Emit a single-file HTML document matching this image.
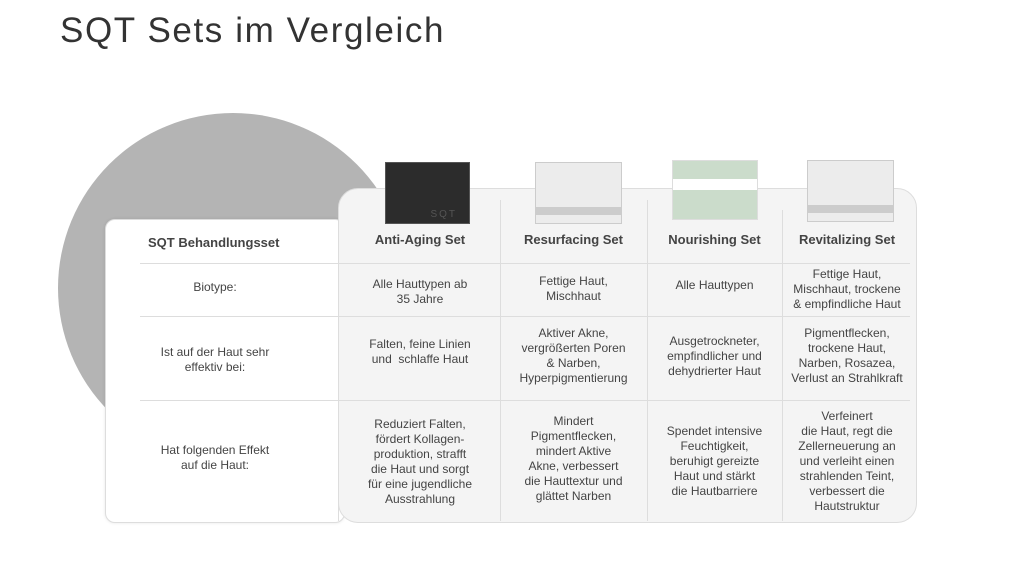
<!DOCTYPE html>
<html><head><meta charset="utf-8"><style>
body{margin:0;width:1024px;height:583px;background:#fff;font-family:"Liberation Sans",sans-serif;color:#444;position:relative;overflow:hidden}
.a{position:absolute}
h1{position:absolute;left:60px;top:11px;margin:0;font-weight:normal;font-size:35px;color:#333;letter-spacing:1.6px}
.circ{left:58px;top:113px;width:350px;height:350px;border-radius:50%;background:#b4b4b4}
.left{left:105px;top:219px;width:238px;height:302px;background:#fff;border:1px solid #ddd;border-radius:10px;box-shadow:0 0 3px rgba(0,0,0,.1)}
.right{left:338px;top:188px;width:577px;height:333px;background:#f4f4f4;border:1px solid #ddd;border-radius:20px}
.c{position:absolute;text-align:center;font-size:12px;line-height:15px;color:#444}
.h{font-weight:bold;font-size:13px;color:#444}
.vl{position:absolute;width:1px;background:#ddd}
.hl{position:absolute;height:1px;background:#ddd}
.img{position:absolute;border:1px solid #ccc}
</style></head><body>
<h1>SQT Sets im Vergleich</h1>
<div class="a circ"></div>
<div class="a left"></div>
<div class="a right" style="border-top-left-radius:20px"></div>
<div class="vl" style="left:338px;top:219px;height:302px"></div>
<div class="vl" style="left:500px;top:200px;height:321px"></div>
<div class="vl" style="left:647px;top:200px;height:321px"></div>
<div class="vl" style="left:782px;top:210px;height:311px"></div>
<div class="hl" style="left:140px;top:263px;width:770px"></div>
<div class="hl" style="left:140px;top:316px;width:770px"></div>
<div class="hl" style="left:140px;top:400px;width:770px"></div>
<div class="img" style="left:385px;top:162px;width:83px;height:60px;background:#2c2c2c;border-color:#555"><div style="position:absolute;right:12px;bottom:3px;color:#555;font-size:10px;letter-spacing:2px">SQT</div></div>
<div class="img" style="left:535px;top:162px;width:85px;height:60px;background:#ececec"><div style="position:absolute;left:0;right:0;bottom:8px;height:8px;background:#ccc"></div></div>
<div class="img" style="left:672px;top:160px;width:84px;height:58px;background:#cbdccb;border-color:#ddd"><div style="position:absolute;left:0;right:0;top:18px;height:11px;background:#fff"></div></div>
<div class="img" style="left:807px;top:160px;width:85px;height:60px;background:#ececec"><div style="position:absolute;left:0;right:0;bottom:8px;height:8px;background:#ccc"></div></div>
<div class="c h" style="top:235px;width:160px;text-align:left;left:148px">SQT Behandlungsset</div>
<div class="c h" style="left:340px;top:232px;width:160px">Anti-Aging Set</div>
<div class="c h" style="left:500px;top:232px;width:147px">Resurfacing Set</div>
<div class="c h" style="left:647px;top:232px;width:135px">Nourishing Set</div>
<div class="c h" style="left:782px;top:232px;width:130px">Revitalizing Set</div>
<div class="c" style="left:140px;top:280px;width:150px">Biotype:</div>
<div class="c" style="left:130px;top:345px;width:170px">Ist auf der Haut sehr<br>effektiv bei:</div>
<div class="c" style="left:130px;top:443px;width:170px">Hat folgenden Effekt<br>auf die Haut:</div>
<div class="c" style="left:340px;top:277px;width:160px">Alle Hauttypen ab<br>35 Jahre</div>
<div class="c" style="left:500px;top:274px;width:147px">Fettige Haut,<br>Mischhaut</div>
<div class="c" style="left:647px;top:278px;width:135px">Alle Hauttypen</div>
<div class="c" style="left:782px;top:267px;width:130px">Fettige Haut,<br>Mischhaut, trockene<br>&amp; empfindliche Haut</div>
<div class="c" style="left:340px;top:337px;width:160px">Falten, feine Linien<br>und &nbsp;schlaffe Haut</div>
<div class="c" style="left:500px;top:326px;width:147px">Aktiver Akne,<br>vergrößerten Poren<br>&amp; Narben,<br>Hyperpigmentierung</div>
<div class="c" style="left:647px;top:334px;width:135px">Ausgetrockneter,<br>empfindlicher und<br>dehydrierter Haut</div>
<div class="c" style="left:782px;top:326px;width:130px">Pigmentflecken,<br>trockene Haut,<br>Narben, Rosazea,<br>Verlust an Strahlkraft</div>
<div class="c" style="left:340px;top:417px;width:160px">Reduziert Falten,<br>fördert Kollagen-<br>produktion, strafft<br>die Haut und sorgt<br>für eine jugendliche<br>Ausstrahlung</div>
<div class="c" style="left:500px;top:414px;width:147px">Mindert<br>Pigmentflecken,<br>mindert Aktive<br>Akne, verbessert<br>die Hauttextur und<br>glättet Narben</div>
<div class="c" style="left:647px;top:424px;width:135px">Spendet intensive<br>Feuchtigkeit,<br>beruhigt gereizte<br>Haut und stärkt<br>die Hautbarriere</div>
<div class="c" style="left:782px;top:409px;width:130px">Verfeinert<br>die Haut, regt die<br>Zellerneuerung an<br>und verleiht einen<br>strahlenden Teint,<br>verbessert die<br>Hautstruktur</div>
</body></html>
